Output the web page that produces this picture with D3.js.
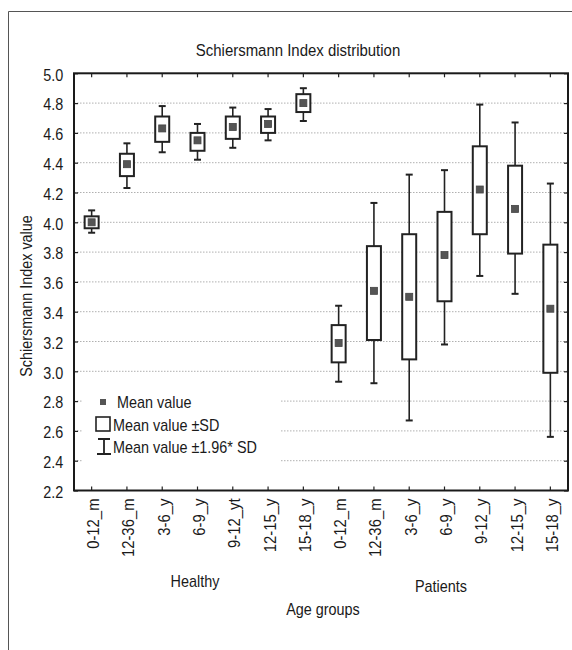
<!DOCTYPE html>
<html><head><meta charset="utf-8">
<script src="https://cdn.jsdelivr.net/npm/d3@7/dist/d3.min.js"></script>
<style>
body{margin:0;background:#fff;}
text{font-family:"Liberation Sans",Arial,sans-serif;fill:#1a1a1a;}
</style></head>
<body><svg id="c" width="572" height="650"></svg>
<script>
const categories = ["0-12_m","12-36_m","3-6_y","6-9_y","9-12_yt","12-15_y","15-18_y",
                    "0-12_m","12-36_m","3-6_y","6-9_y","9-12_y","12-15_y","15-18_y"];
const groups = ["Healthy","Healthy","Healthy","Healthy","Healthy","Healthy","Healthy",
                "Patients","Patients","Patients","Patients","Patients","Patients","Patients"];
const meanValues = [4.00,4.39,4.63,4.55,4.64,4.66,4.80, 3.19,3.54,3.50,3.78,4.22,4.09,3.42];
const sdLow  = [3.96,4.31,4.54,4.48,4.56,4.60,4.74, 3.06,3.21,3.08,3.47,3.92,3.79,2.99];
const sdHigh = [4.04,4.46,4.71,4.60,4.71,4.71,4.86, 3.31,3.84,3.92,4.07,4.51,4.38,3.85];
const ciLow  = [3.93,4.23,4.47,4.42,4.50,4.55,4.68, 2.93,2.92,2.67,3.18,3.64,3.52,2.56];
const ciHigh = [4.08,4.53,4.78,4.66,4.77,4.76,4.90, 3.44,4.13,4.32,4.35,4.79,4.67,4.26];
const yTicks = [2.2,2.4,2.6,2.8,3.0,3.2,3.4,3.6,3.8,4.0,4.2,4.4,4.6,4.8,5.0];

const svg = d3.select("#c");
const L = 74, R = 568, T = 73.3, B = 490.5;
const SX = 0.9;
const x = d3.scaleBand().domain(d3.range(categories.length)).range([L, R]);
const y = d3.scaleLinear().domain([2.2, 5.0]).range([B, T]);

function label(px, py, str, size, anchor, rot, sx) {
  const g = svg.append("g").attr("transform", `translate(${px},${py}) rotate(${rot||0}) scale(${sx||SX},1)`);
  g.append("text").attr("text-anchor", anchor || "start").attr("font-size", size).text(str);
  return g;
}

// outer frame (only left & top visible)
svg.append("path").attr("d", "M8.5,660 V11.5 H580").attr("fill","none").attr("stroke","#555").attr("stroke-width",1);

// title
label(298, 56, "Schiersmann Index distribution", 17, "middle", 0, 0.88);

// gridlines
svg.append("g").selectAll("line").data(yTicks.filter(v => v > 2.2 && v < 5.0)).join("line")
  .attr("x1", L).attr("x2", R).attr("y1", d => y(d)).attr("y2", d => y(d))
  .attr("stroke", "#b0b0b0").attr("stroke-width", 1).attr("stroke-dasharray", "1.5,1.5");

// legend white backdrop
svg.append("rect").attr("x", 82).attr("y", 380).attr("width", 198).attr("height", 92).attr("fill","#fff");

// y axis (left) labels and inner ticks
const yAxisL = d3.axisLeft(y).tickValues(yTicks).tickFormat(d3.format(".1f")).tickSize(-4).tickPadding(12);
const gl = svg.append("g").attr("transform", `translate(${L},0)`).call(yAxisL);
gl.select(".domain").remove();
gl.selectAll("text").attr("font-size", 16).attr("fill","#1a1a1a").attr("dy","0.42em")
  .attr("transform", `scale(${SX},1)`);
gl.selectAll("line").attr("stroke","#222").attr("stroke-width",1.2);
// right axis ticks
const yAxisR = d3.axisRight(y).tickValues(yTicks).tickSize(-4).tickFormat("");
const gr = svg.append("g").attr("transform", `translate(${R},0)`).call(yAxisR);
gr.select(".domain").remove();
gr.selectAll("line").attr("stroke","#222").attr("stroke-width",1.2);

// x axis bottom
const xAxisB = d3.axisBottom(x).tickFormat(i => categories[i]).tickSize(-4).tickPadding(8);
const gb = svg.append("g").attr("transform", `translate(0,${B})`).call(xAxisB);
gb.select(".domain").remove();
gb.selectAll("line").attr("stroke","#222").attr("stroke-width",1.2);
gb.selectAll("text").attr("font-size", 16.5).attr("fill","#1a1a1a")
  .attr("transform",`rotate(-90) scale(${SX},1)`).attr("text-anchor","end")
  .attr("x", -8 / SX).attr("y", 0).attr("dy","0.45em");
// top ticks
const xAxisT = d3.axisTop(x).tickFormat("").tickSize(-4);
const gt = svg.append("g").attr("transform", `translate(0,${T})`).call(xAxisT);
gt.select(".domain").remove();
gt.selectAll("line").attr("stroke","#222").attr("stroke-width",1.2);

// plot frame
svg.append("rect").attr("x", L).attr("y", T).attr("width", R - L).attr("height", B - T)
  .attr("fill","none").attr("stroke","#1a1a1a").attr("stroke-width", 2);

// boxes
const bw = 14, cw = 7, ms = 7;
const g = svg.append("g");
categories.forEach((c, i) => {
  const cx = x(i) + x.bandwidth() / 2;
  g.append("line").attr("x1", cx).attr("x2", cx).attr("y1", y(ciHigh[i])).attr("y2", y(sdHigh[i])).attr("stroke","#222").attr("stroke-width",1.6);
  g.append("line").attr("x1", cx).attr("x2", cx).attr("y1", y(sdLow[i])).attr("y2", y(ciLow[i])).attr("stroke","#222").attr("stroke-width",1.6);
  g.append("line").attr("x1", cx - cw/2).attr("x2", cx + cw/2).attr("y1", y(ciHigh[i])).attr("y2", y(ciHigh[i])).attr("stroke","#222").attr("stroke-width",2);
  g.append("line").attr("x1", cx - cw/2).attr("x2", cx + cw/2).attr("y1", y(ciLow[i])).attr("y2", y(ciLow[i])).attr("stroke","#222").attr("stroke-width",2);
  g.append("rect").attr("x", cx - bw/2).attr("y", y(sdHigh[i])).attr("width", bw).attr("height", y(sdLow[i]) - y(sdHigh[i]))
    .attr("fill","#fff").attr("stroke","#222").attr("stroke-width",2);
  g.append("rect").attr("x", cx - ms/2).attr("y", y(meanValues[i]) - ms/2).attr("width", ms).attr("height", ms)
    .attr("fill","#555").attr("stroke","#444").attr("stroke-width",0.8);
});

// legend
svg.append("rect").attr("x", 100).attr("y", 399).attr("width", 6).attr("height", 6).attr("fill","#555");
label(117, 408, "Mean value", 16, "start");
svg.append("rect").attr("x", 96).attr("y", 417).attr("width", 14).attr("height", 14).attr("fill","#fff").attr("stroke","#222").attr("stroke-width",1.6);
label(113, 431, "Mean value \u00B1SD", 16, "start");
svg.append("path").attr("d","M98,439 H110 M104,439 V454 M97,454 H111").attr("stroke","#222").attr("stroke-width",1.8).attr("fill","none");
label(113, 453, "Mean value \u00B11.96* SD", 16, "start");

// axis titles
label(195, 587, "Healthy", 16, "middle");
label(441, 592, "Patients", 16, "middle");
label(323, 615, "Age groups", 16, "middle");
label(32, 296, "Schiersmann Index value", 16, "middle", -90);
</script></body></html>
